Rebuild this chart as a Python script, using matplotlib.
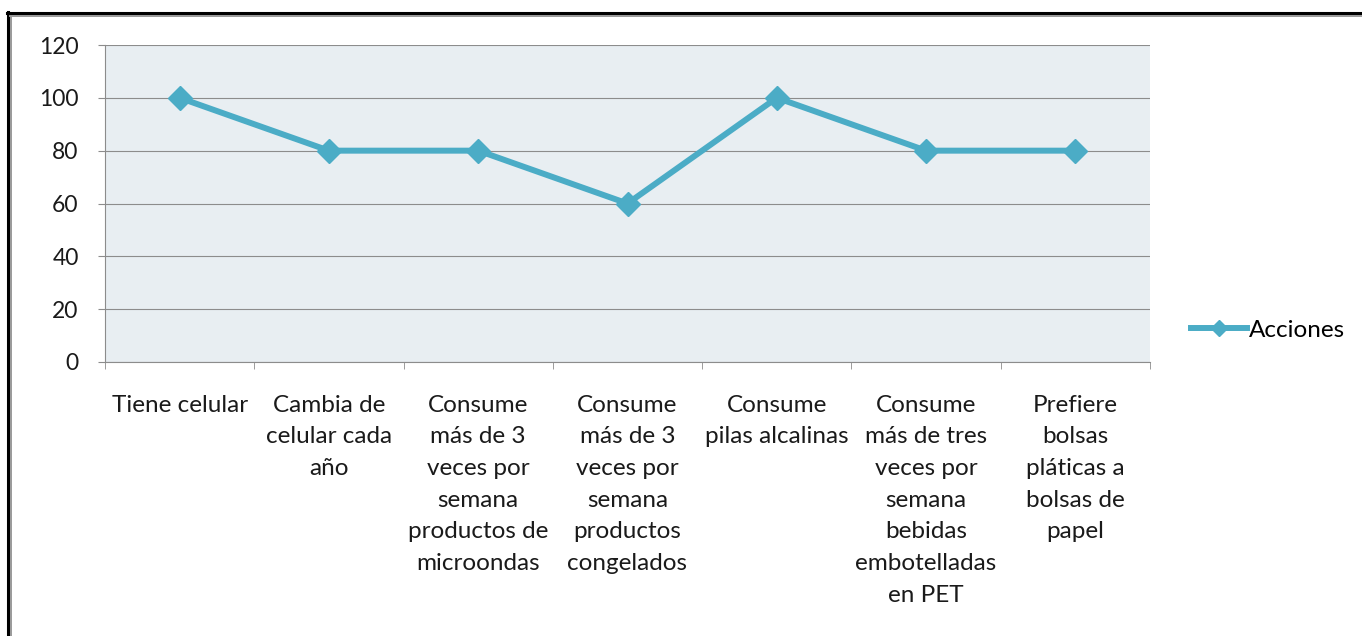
import matplotlib.pyplot as plt
from matplotlib.lines import Line2D

categories = [
    "Tiene celular",
    "Cambia de\ncelular cada\naño",
    "Consume\nmás de 3\nveces por\nsemana\nproductos de\nmicroondas",
    "Consume\nmás de 3\nveces por\nsemana\nproductos\ncongelados",
    "Consume\npilas alcalinas",
    "Consume\nmás de tres\nveces por\nsemana\nbebidas\nembotelladas\nen PET",
    "Prefiere\nbolsas\npláticas a\nbolsas de\npapel",
]
acciones = [100, 80, 80, 60, 100, 80, 80]
y_ticks = [0, 20, 40, 60, 80, 100, 120]

plt.rcParams['font.family'] = ['Lato', 'DejaVu Sans']

W, H = 1362, 636
fig = plt.figure(figsize=(W / 100, H / 100), dpi=100)
ax = fig.add_axes([105 / W, 1 - 362 / H, (1150 - 105) / W, (362 - 45) / H])
ax.set_facecolor('#E8EEF2')

x = list(range(len(categories)))
ax.plot(x, acciones, color='#4BACC6', lw=4.3, marker='D', markersize=12,
        markeredgewidth=1, markeredgecolor='#4BACC6', label='Acciones',
        solid_joinstyle='miter', zorder=3)

ax.set_xlim(-0.5, len(categories) - 0.5)
ax.set_ylim(0, 120)
ax.set_yticks(y_ticks)
ax.yaxis.grid(True, color='#8C8C8C', lw=0.8)
ax.set_axisbelow(True)

ax.set_xticks(x)
ax.set_xticklabels(categories, fontsize=17.5, linespacing=1.63, color='#1A1A1A')
ax.set_xticks([i - 0.5 for i in range(len(categories) + 1)], minor=True)
ax.tick_params(axis='x', which='major', length=0, pad=23.5)
ax.tick_params(axis='x', which='minor', length=5, color='#8C8C8C', direction='out')
ax.tick_params(axis='y', length=5, color='#8C8C8C', pad=14, labelsize=16.5,
               labelcolor='#1A1A1A')

for side in ['top', 'right']:
    ax.spines[side].set_visible(False)
for side in ['left', 'bottom']:
    ax.spines[side].set_color('#8C8C8C')
    ax.spines[side].set_linewidth(0.8)

leg = ax.legend(loc='center left', bbox_to_anchor=(1.039, 0.1), frameon=False,
                fontsize=17.5, handlelength=2.3, handletextpad=0.1,
                borderaxespad=0, borderpad=0)
leg.legend_handles[0].set_markersize(8)

# outer frame
def px(xp, yp):
    return xp / W, 1 - yp / H

fig.add_artist(Line2D(*zip(px(7, 13), px(W, 13)), color='black', lw=2.2,
                      transform=fig.transFigure))
fig.add_artist(Line2D(*zip(px(8, 12), px(8, H)), color='black', lw=2.2,
                      transform=fig.transFigure))
fig.add_artist(Line2D(*zip(px(10, 16), px(W, 16)), color='#999999', lw=1.4,
                      transform=fig.transFigure))
fig.add_artist(Line2D(*zip(px(11, 16), px(11, H)), color='#999999', lw=1.4,
                      transform=fig.transFigure))

fig.savefig('out.png', dpi=100)
